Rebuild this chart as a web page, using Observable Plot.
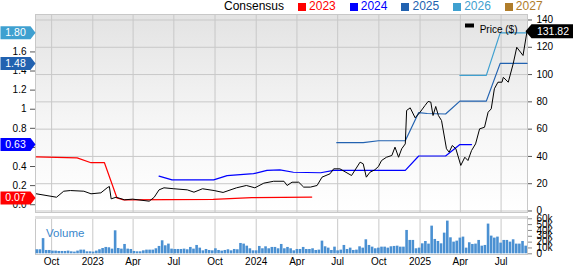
<!DOCTYPE html>
<html><head><meta charset="utf-8">
<script src="https://cdn.jsdelivr.net/npm/d3@7"></script>
<script src="https://cdn.jsdelivr.net/npm/@observablehq/plot@0.6"></script>
<style>
html,body{margin:0;padding:0;background:#fff;}
body{width:573px;height:266px;overflow:hidden;font-family:"Liberation Sans",Arial,sans-serif;}
#legend{position:relative;height:14px;}
#legend .inner{position:absolute;left:224px;top:0;display:flex;align-items:center;font-size:12px;line-height:13px;white-space:nowrap;}
#legend .sw{display:inline-block;width:8px;height:8px;margin-right:3px;}
#legend .item{display:flex;align-items:center;margin-left:14px;}
svg{display:block;}
</style></head><body>
<div id="legend"></div>
<div id="price"></div>
<div id="vol"></div>
<script>
// ---------- data ----------
const priceDates = ["2022-08-28","2022-10-12","2022-10-28","2022-11-12","2022-12-12","2022-12-28","2023-01-19","2023-02-02","2023-02-07","2023-02-11","2023-02-22","2023-03-13","2023-03-31","2023-05-07","2023-05-18","2023-05-29","2023-06-09","2023-07-01","2023-07-31","2023-08-15","2023-09-03","2023-09-29","2023-10-19","2023-11-18","2023-12-10","2023-12-29","2024-01-18","2024-02-09","2024-03-03","2024-03-10","2024-03-21","2024-04-05","2024-04-16","2024-05-01","2024-05-16","2024-05-27","2024-06-14","2024-06-22","2024-07-06","2024-08-01","2024-08-20","2024-08-27","2024-09-03","2024-09-11","2024-09-22","2024-09-30","2024-10-07","2024-10-18","2024-10-30","2024-11-06","2024-11-14","2024-11-21","2024-11-29","2024-12-02","2024-12-10","2024-12-21","2025-01-01","2025-01-12","2025-01-19","2025-01-25","2025-01-30","2025-02-05","2025-02-11","2025-02-18","2025-03-01","2025-03-07","2025-03-14","2025-03-22","2025-04-02","2025-04-11","2025-04-18","2025-04-26","2025-05-05","2025-05-14","2025-05-25","2025-06-02","2025-06-09","2025-06-16","2025-06-24","2025-07-03","2025-07-06","2025-07-17","2025-07-28","2025-08-05","2025-08-19","2025-08-28"];
const priceValues = [12.6,10.1,14.5,15,14.5,12.6,13.3,17,18,8.9,10.1,8.2,8.7,7.2,10,15.5,17,16.3,15.5,13.8,16.3,15,13.6,17,18.7,17,20.4,21.8,21.8,18.7,21.1,21.1,17.5,17.5,18.7,24.8,27.3,30.9,30.9,26,35.8,34.6,24.8,28.4,30.2,32.6,37,39.4,40.7,46.8,39.4,45.6,49.2,73.7,75.6,68.3,72.4,77.3,80.3,79.8,70,76.6,70,66.3,45.6,43.1,48,45.6,33.4,39.4,37,44.3,49.2,60.2,61.4,72.4,74.9,89.6,94.4,94.4,98,94.4,107.9,120,114,131.82];
const lastPrice = 131.82;

const epsYears = ["2023","2024","2025","2026","2027"];
const epsColors = ["#ff0000","#0000ff","#2262b0","#3fa0d0","#b07d2a"];

const eps2023Dates = ["2022-08-28","2022-11-27","2022-12-28","2023-01-27","2023-02-24","2023-03-11","2023-09-27","2023-12-22","2024-05-04"];
const eps2023Values = [0.50,0.49,0.44,0.44,0.07,0.05,0.055,0.075,0.08];
const eps2024Dates = ["2023-05-29","2023-06-27","2023-09-28","2023-10-28","2023-12-26","2024-01-25","2024-02-23","2024-03-24","2024-05-24","2024-06-22","2024-11-29","2024-12-29","2025-02-27","2025-03-31","2025-04-26"];
const eps2024Values = [0.30,0.26,0.26,0.305,0.325,0.36,0.365,0.34,0.335,0.36,0.36,0.51,0.51,0.63,0.63];
const eps2025Dates = ["2024-06-29","2024-08-27","2024-09-30","2024-11-29","2024-12-29","2025-01-17","2025-02-27","2025-03-31","2025-05-29","2025-06-29","2025-08-28"];
const eps2025Values = [0.65,0.65,0.67,0.67,0.965,0.955,0.95,1.085,1.085,1.48,1.48];
const eps2026Dates = ["2025-03-31","2025-05-29","2025-06-29","2025-08-28"];
const eps2026Values = [1.355,1.355,1.80,1.80];

const tagYears = ["2023","2024","2025","2026"];
const tagValues = [0.07,0.63,1.48,1.80];

const volStart = "2022-08-30";
const volumes = [6.9,6.9,26,5.7,5.7,4.6,4.6,4,4,4,4.6,3.4,2.9,4.6,6.3,6.3,3.4,3.4,2.9,4.6,6.9,9.1,10.9,10.3,8,39.4,9.1,8,16,8,7.4,4,3.4,3.4,5.1,6.3,6.3,
6.3,8.6,12.6,22.3,13.7,16.6,8,7.4,7.4,7.4,8,6.9,10.9,8,
14.3,9.7,5.1,7.4,5.7,5.1,8.6,5.7,4.6,5.7,6.9,5.1,7.4,6.9,17.7,16.6,13.1,8.6,5.1,5.1,12.6,8.6,12,8.6,10.9,10.9,8.6,16,8.6,10.9,8.6,5.1,7.4,7.4,10.9,7.4,7.4,8.6,5.7,6.3,21.7,12,9.7,5.7,11.4,5.1,6.3,14.3,7.4,9.7,5.7,6.3,12,
9.7,24,14.3,11.4,8.6,9.7,11.4,11.4,9.7,12,12.6,13.1,11.4,11.4,40,22.9,22.9,8.6,9.7,17.1,21.1,16.6,47.4,24.6,21.1,17.1,35.4,56,27.4,20,21.7,26.9,28.6,9.7,18.9,16,16.6,22.9,13.1,14.3,50.9,30.3,26.9,28.6,18.3,22.9,22.9,20,24,16.6,16.6,21.1,13.1];

const priceTicks = [0,20,40,60,80,100,120,140];
const epsTicks = [0,0.2,0.4,0.6,0.8,1,1.2,1.4,1.6,1.8];
const epsTickLabels = ["0.0","0.2","0.4","0.6","0.8","1","1.2","1.4","1.6","1.8"];
const volTicks = [0,10,20,30,40,50,60];
const volTickLabels = ["0","10k","20k","30k","40k","50k","60k"];
const quarterTicks = ["2022-10-01","2023-01-01","2023-04-01","2023-07-01","2023-10-01","2024-01-01","2024-04-01","2024-07-01","2024-10-01","2025-01-01","2025-04-01","2025-07-01"];
const quarterLabels = ["Oct","2023","Apr","Jul","Oct","2024","Apr","Jul","Oct","2025","Apr","Jul"];

// ---------- build ----------
const FONT = "'Liberation Sans', Arial, sans-serif";
const DAY = 864e5;
const toP = v => 4.6 + 70 * v;   // EPS (left axis) -> price units (right axis)
const xDomain = [new Date("2022-08-26"), new Date("2025-08-29")];
const W = 573, ML = 35, MR = 46;
const colorScale = {domain: epsYears, range: epsColors};

const price = priceDates.map((d, i) => ({date: new Date(d), value: priceValues[i]}));
const epsSets = [[eps2023Dates, eps2023Values, "2023"], [eps2024Dates, eps2024Values, "2024"], [eps2025Dates, eps2025Values, "2025"], [eps2026Dates, eps2026Values, "2026"]];
const eps = epsSets.flatMap(([ds, vs, y]) => ds.map((d, i) => ({year: y, date: new Date(d), value: vs[i]})));
const tags = tagYears.map((y, i) => ({year: y, value: tagValues[i]}));
const qDates = quarterTicks.map(d => new Date(d));
const qLabel = new Map(qDates.map((d, i) => [+d, quarterLabels[i]]));
const epsTickP = epsTicks.map(toP);
const epsLabel = new Map(epsTickP.map((p, i) => [p, epsTickLabels[i]]));
const volLabel = new Map(volTicks.map((v, i) => [v, volTickLabels[i]]));
const t0 = +new Date(volStart);
const vol = volumes.map((v, i) => ({date: new Date(t0 + i * 7 * DAY), vol: v}));

// legend (HTML)
const leg = document.createElement("div");
leg.className = "inner";
leg.innerHTML = `<span>Consensus</span>` + epsYears.map((y, i) =>
  `<span class="item"><span class="sw" style="background:${epsColors[i]}"></span><span style="color:${epsColors[i]}">${y}</span></span>`).join("");
document.getElementById("legend").appendChild(leg);

const leftTag = {draw(ctx) { ctx.moveTo(0, 0); ctx.lineTo(-5, -6.5); ctx.lineTo(-35, -6.5); ctx.lineTo(-35, 6.5); ctx.lineTo(-5, 6.5); ctx.closePath(); }};
const rightTag = {draw(ctx) { ctx.moveTo(-2, 0); ctx.lineTo(4, -7); ctx.lineTo(46, -7); ctx.lineTo(46, 7); ctx.lineTo(4, 7); ctx.closePath(); }};
const smallRect = {draw(ctx) { ctx.rect(-4.5, -2, 9, 4); }};

const plot1 = Plot.plot({
  width: W, height: 199, marginLeft: ML, marginRight: MR, marginTop: 0, marginBottom: 1,
  style: {fontFamily: FONT, fontSize: "10px", color: "#000", background: "transparent", overflow: "visible"},
  x: {type: "utc", domain: xDomain, axis: null},
  y: {domain: [-1.1, 144.03], axis: null},
  color: colorScale,
  marks: [
    Plot.frame({fill: "url(#bgGrad)", stroke: null}),
    Plot.gridX(qDates, {stroke: "#c8c8c8", strokeOpacity: 1}),
    Plot.gridY(priceTicks, {stroke: "#c8c8c8", strokeOpacity: 1}),
    Plot.frame({stroke: "#c8c8c8"}),
    Plot.axisY(priceTicks, {anchor: "right", label: null, tickSize: 4, tickPadding: 5, stroke: "#555", fontSize: 10}),
    Plot.axisY(epsTickP, {anchor: "left", label: null, tickSize: 5, tickPadding: 4, stroke: "#555", fontSize: 10, tickFormat: d => epsLabel.get(d)}),
    Plot.line(eps, {x: "date", y: d => toP(d.value), z: "year", stroke: "year", strokeWidth: 1.2}),
    Plot.line(price, {x: "date", y: "value", stroke: "#000", strokeWidth: 1}),
    Plot.dot(tags, {y: d => toP(d.value), frameAnchor: "left", symbol: leftTag, fill: "year", stroke: null}),
    Plot.text(tags, {y: d => toP(d.value), frameAnchor: "left", text: d => d.value.toFixed(2), dx: -20, fill: "white", fontSize: 10.5, textAnchor: "middle"}),
    Plot.dot([lastPrice], {y: d => d, frameAnchor: "right", symbol: rightTag, fill: "#000", stroke: null}),
    Plot.text([lastPrice], {y: d => d, frameAnchor: "right", text: d => d.toFixed(2), dx: 25.5, fill: "white", fontSize: 10.5, textAnchor: "middle"}),
    Plot.dot(["Price ($)"], {frameAnchor: "top-right", dx: -58, dy: 11, symbol: smallRect, fill: "#000", stroke: null}),
    Plot.text(["Price ($)"], {frameAnchor: "top-right", text: d => d, dx: -10, dy: 11.7, textAnchor: "end", fill: "#000", fontSize: 10})
  ]
});
{
  const ns = "http://www.w3.org/2000/svg";
  const defs = document.createElementNS(ns, "defs");
  const lg = document.createElementNS(ns, "linearGradient");
  lg.setAttribute("id", "bgGrad");
  lg.setAttribute("x1", "0"); lg.setAttribute("y1", "0"); lg.setAttribute("x2", "0"); lg.setAttribute("y2", "1");
  [["0", "#e3e3e3"], ["0.55", "#f6f6f6"], ["1", "#ffffff"]].forEach(([o, c]) => {
    const s = document.createElementNS(ns, "stop");
    s.setAttribute("offset", o); s.setAttribute("stop-color", c); lg.appendChild(s);
  });
  defs.appendChild(lg);
  plot1.insertBefore(defs, plot1.firstChild);
}
document.getElementById("price").appendChild(plot1);

const plot2 = Plot.plot({
  width: W, height: 53, marginLeft: ML, marginRight: MR, marginTop: 3, marginBottom: 12,
  style: {fontFamily: FONT, fontSize: "10px", color: "#000", background: "transparent", overflow: "visible"},
  x: {type: "utc", domain: xDomain, axis: null},
  y: {domain: [-1.2, 63.9], axis: null},
  marks: [
    Plot.gridX(qDates, {stroke: "#c8c8c8", strokeOpacity: 1}),
    Plot.frame({stroke: "#c8c8c8"}),
    Plot.rectY(vol, {x1: d => new Date(+d.date - 2.9 * DAY), x2: d => new Date(+d.date + 2.9 * DAY), y: "vol", fill: "#4a90d2"}),
    Plot.ruleY([63.9], {stroke: "#e0e0e0", strokeWidth: 3, dy: 1}),
    Plot.axisY(volTicks, {anchor: "right", label: null, tickSize: 4, tickPadding: 5, stroke: "#888", fontSize: 10, tickFormat: d => volLabel.get(d)}),
    Plot.axisX(qDates, {anchor: "bottom", label: null, tickSize: 0, tickPadding: 3.5, fontSize: 10, tickFormat: d => qLabel.get(+d)}),
    Plot.text(["Volume"], {frameAnchor: "top-left", text: d => d, dx: 10.5, dy: 12.7, textAnchor: "start", fill: "#3a87cc", fontSize: 11.5})
  ]
});
document.getElementById("vol").appendChild(plot2);
</script>
</body></html>
